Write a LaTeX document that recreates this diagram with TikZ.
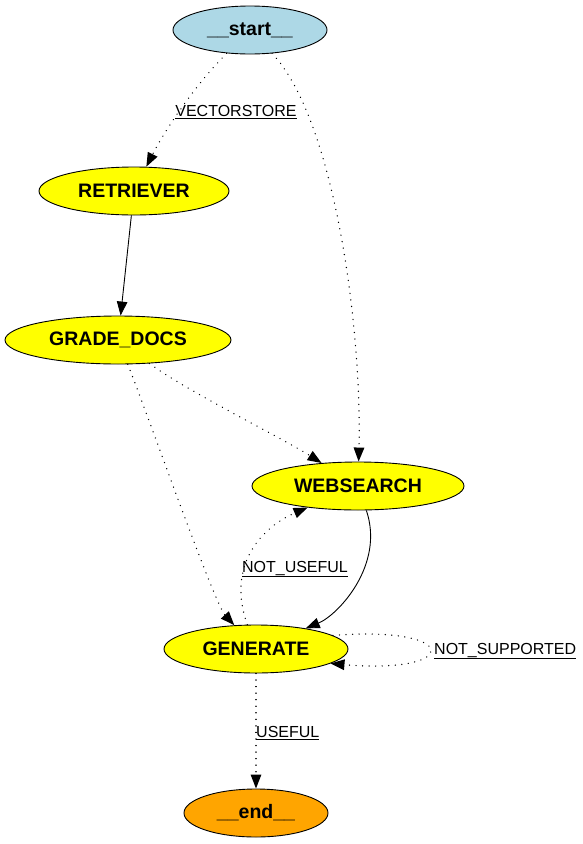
\documentclass[tikz,border=0pt]{standalone}
\usepackage{fontspec}
\setmainfont{Liberation Sans}
\usetikzlibrary{shapes.geometric,arrows.meta}
\definecolor{nodeblue}{RGB}{173,216,230}
\definecolor{nodeyellow}{RGB}{255,255,0}
\definecolor{nodeorange}{RGB}{255,165,0}
\tikzset{
  gnode/.style={ellipse, draw=black, line width=0.9pt, inner sep=0pt,
    minimum height=48pt, font=\fontsize{19.5}{22}\selectfont\bfseries},
  edge/.style={line width=0.9pt, -{Triangle[length=14pt,width=10.5pt]}},
  dots/.style={edge, line width=1.4pt, line cap=round, dash pattern=on 0.05pt off 6.5pt},
  elabel/.style={font=\fontsize{16}{18}\selectfont, inner sep=0pt}
}
\begin{document}
\begin{tikzpicture}[x=1pt,y=-1pt]
\useasboundingbox (0,0) rectangle (583,844);
\node[gnode, fill=nodeblue, minimum width=154pt] (start) at (250,30) {\_\_start\_\_};
\node[gnode, fill=nodeyellow, minimum width=190pt] (ret) at (134,191) {RETRIEVER};
\node[gnode, fill=nodeyellow, minimum width=226pt] (grade) at (118,340) {GRADE\_DOCS};
\node[gnode, fill=nodeyellow, minimum width=212pt] (web) at (358,486) {WEBSEARCH};
\node[gnode, fill=nodeyellow, minimum width=184pt] (gen) at (256,649) {GENERATE};
\node[gnode, fill=nodeorange, minimum width=144pt] (end) at (256,813) {\_\_end\_\_};

% start -> retriever
\draw[dots] (start) .. controls (195,85) and (165,130) .. (ret);
\node[elabel] (lvec) at (236,112) {\underline{VECTORSTORE}};
% start -> websearch
\draw[dots] (start) .. controls (335,120) and (362,330) .. (web);
% retriever -> grade
\draw[edge] (ret) -- (grade);
% grade -> websearch
\draw[dots] (grade) .. controls (185,390) and (282,438) .. (web);
% grade -> generate
\draw[dots] (grade) .. controls (148,415) and (214,603) .. (gen);
% websearch -> generate
\draw[edge] (web) .. controls (385,565) and (338,615) .. (gen);
% generate -> websearch
\draw[dots] (gen) .. controls (226,565) and (262,527) .. (web);
\node[elabel] (lnu) at (295,569) {\underline{NOT\_USEFUL}};
% self loop
\draw[dots] (gen.10) .. controls (462,625) and (462,675) .. (gen.-11);
\node[elabel, anchor=west] (lns) at (434,651) {\underline{NOT\_SUPPORTED}};
% generate -> end
\draw[dots] (gen) -- (end);
\node[elabel, anchor=west] (lus) at (256,733) {\underline{USEFUL}};
\end{tikzpicture}
\end{document}
